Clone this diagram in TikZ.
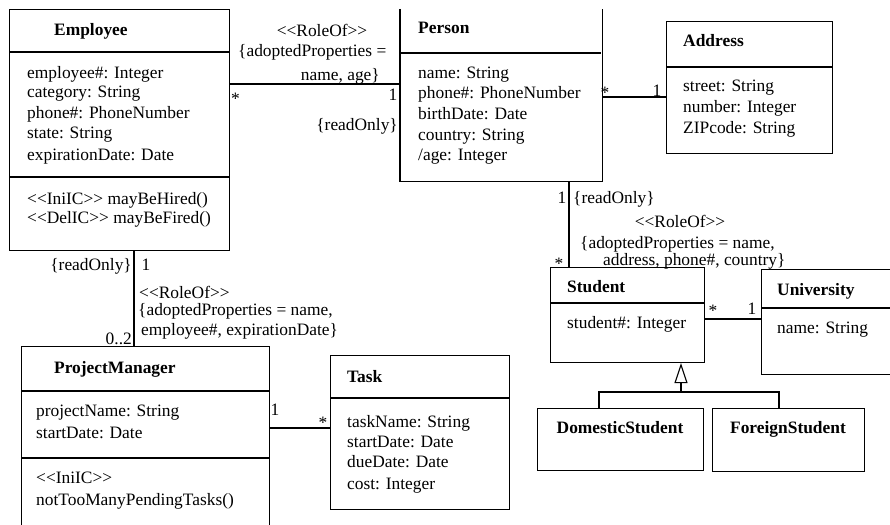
\documentclass[tikz,border=0pt]{standalone}
\usepackage{fontspec}
\newfontfamily\umlfont{Liberation Serif}
\usetikzlibrary{arrows.meta}
\begin{document}
\begin{tikzpicture}[x=1pt,y=-1pt,
  font=\umlfont\fontsize{17.4}{20}\selectfont,
  box/.style={draw, line width=1.1pt, anchor=north west, inner sep=0pt, rectangle},
  txt/.style={anchor=base west, inner sep=0pt},
  rtxt/.style={anchor=base east, inner sep=0pt},
  ctxt/.style={anchor=base, inner sep=0pt},
  ttl/.style={anchor=base west, inner sep=0pt, font=\umlfont\bfseries\fontsize{17.4}{20}\selectfont},
  cttl/.style={anchor=base, inner sep=0pt, font=\umlfont\bfseries\fontsize{17.4}{20}\selectfont},
  conn/.style={line width=1.1pt}]
\useasboundingbox (0,0) rectangle (890,524);
\clip (0,0) rectangle (890,524);
\fill[white] (0,0) rectangle (890,524);

% ---------- boxes ----------
\node[box, minimum width=220pt, minimum height=241pt] (emp) at (9,9) {};
\node[box, draw=none, minimum width=201pt, minimum height=171pt] (per) at (400,9) {};
\draw[conn] (per.north west) -- (per.south west) -- (per.south east) -- (per.north east);
\node[box, minimum width=166pt, minimum height=132pt] (adr) at (666,21) {};
\node[box, minimum width=154pt, minimum height=95pt] (stu) at (550,267) {};
\node[box, minimum width=140pt, minimum height=105pt] (uni) at (761,269) {};
\node[box, minimum width=166pt, minimum height=62pt] (dom) at (537,408) {};
\node[box, minimum width=152pt, minimum height=63pt] (for) at (712,408) {};
\node[box, minimum width=248pt, minimum height=200pt] (pm) at (21,346) {};
\node[box, minimum width=179pt, minimum height=154pt] (tsk) at (330,355) {};

% ---------- compartment lines ----------
\draw[conn] (emp.north west) ++(0,43) -- ++(220,0);
\draw[conn] (emp.north west) ++(0,168) -- ++(220,0);
\draw[conn] (per.north west) ++(0,44) -- ++(201,0);
\draw[conn] (adr.north west) ++(0,46) -- ++(166,0);
\draw[conn] (stu.north west) ++(0,36) -- ++(154,0);
\draw[conn] (uni.north west) ++(0,39) -- ++(140,0);
\draw[conn] (pm.north west) ++(0,45) -- ++(248,0);
\draw[conn] (pm.north west) ++(0,112) -- ++(248,0);
\draw[conn] (tsk.north west) ++(0,43) -- ++(179,0);

% ---------- titles ----------
\node[ttl] (t1) at (54,36) {Employee};
\node[ttl] (t2) at (418,34) {Person};
\node[ttl] (t3) at (683,47) {Address};
\node[ttl] (t4) at (567,292) {Student};
\node[ttl] (t5) at (777,295) {University};
\node[cttl] (t6) at (620,433) {DomesticStudent};
\node[cttl] (t7) at (788,433) {ForeignStudent};
\node[ttl] (t8) at (54,373) {ProjectManager};
\node[ttl] (t9) at (347,382) {Task};

% ---------- attributes ----------
\node[txt] (ea1) at (27,79) {employee\#: Integer};
\node[txt] (ea2) at (27,98) {category: String};
\node[txt] (ea3) at (27,118) {phone\#: PhoneNumber};
\node[txt] (ea4) at (27,138) {state: String};
\node[txt] (ea5) at (27,160) {expirationDate: Date};
\node[txt] (eo1) at (27,204) {<<IniIC>> mayBeHired()};
\node[txt] (eo2) at (27,223) {<<DelIC>> mayBeFired()};

\node[txt] (pa1) at (418,79) {name: String};
\node[txt] (pa2) at (418,99) {phone\#: PhoneNumber};
\node[txt] (pa3) at (418,120) {birthDate: Date};
\node[txt] (pa4) at (418,140) {country: String};
\node[txt] (pa5) at (418,160) {/age: Integer};

\node[txt] (aa1) at (683,92) {street: String};
\node[txt] (aa2) at (683,112) {number: Integer};
\node[txt] (aa3) at (683,133) {ZIPcode: String};

\node[txt] (sa1) at (567,328) {student\#: Integer};
\node[txt] (ua1) at (777,333) {name: String};

\node[txt] (ma1) at (36,416) {projectName: String};
\node[txt] (ma2) at (36,438) {startDate: Date};
\node[txt] (mo1) at (36,483) {<<IniIC>>};
\node[txt] (mo2) at (36,505) {notTooManyPendingTasks()};

\node[txt] (ta1) at (347,427) {taskName: String};
\node[txt] (ta2) at (347,447) {startDate: Date};
\node[txt] (ta3) at (347,467) {dueDate: Date};
\node[txt] (ta4) at (347,489) {cost: Integer};

% ---------- connectors ----------
\coordinate (k1) at (300,84);
\draw[conn] (emp.east |- k1) -- (per.west |- k1);
\coordinate (k2) at (630,97);
\draw[conn] (per.east |- k2) -- (adr.west |- k2);
\coordinate (k3) at (569,220);
\draw[conn] (per.south -| k3) -- (stu.north -| k3);
\coordinate (k4) at (730,319);
\draw[conn] (stu.east |- k4) -- (uni.west |- k4);
\coordinate (k5) at (134,300);
\draw[conn] (emp.south -| k5) -- (pm.north -| k5);
\coordinate (k6) at (300,428);
\draw[conn] (pm.east |- k6) -- (tsk.west |- k6);

% generalization
\coordinate (gen) at (681,392);
\coordinate (gd) at (599,392);
\coordinate (gf) at (779,392);
\draw[conn, -{Triangle[open, length=20pt, width=13pt, line width=1.1pt]}] (gen) -- (stu.south -| gen);
\draw[conn] (dom.north -| gd) |- (gen) -| (for.north -| gf);

% ---------- connector labels ----------
\node[ctxt] (l1) at (322,37) {<<RoleOf>>};
\node[txt] (l2) at (238,57) {\{adoptedProperties =};
\node[rtxt] (l3) at (380,81) {name, age\}};
\node[txt] (l4) at (231,105) {*};
\node[ctxt] (l5) at (393,100) {1};
\node[rtxt] (l6) at (398,130) {\{readOnly\}};

\node[ctxt] (l7) at (605,99) {*};
\node[ctxt] (l8) at (657,96) {1};

\node[ctxt] (l9) at (562,203) {1};
\node[txt] (l10) at (573,203) {\{readOnly\}};
\node[ctxt] (l11) at (680,227) {<<RoleOf>>};
\node[txt] (l12) at (580,248) {\{adoptedProperties = name,};
\node[txt] (l13) at (603,265) {address, phone\#, country\}};
\node[ctxt] (l14) at (559,269) {*};

\node[ctxt] (l15) at (713,316) {*};
\node[ctxt] (l16) at (752,314) {1};

\node[rtxt] (l17) at (132,270) {\{readOnly\}};
\node[ctxt] (l18) at (146,270) {1};
\node[txt] (l19) at (139,298) {<<RoleOf>>};
\node[txt] (l20) at (138,315) {\{adoptedProperties = name,};
\node[txt] (l21) at (141,335) {employee\#, expirationDate\}};
\node[rtxt] (l22) at (132,344) {0..2};

\node[ctxt] (l23) at (275,415) {1};
\node[ctxt] (l24) at (323,428) {*};
\end{tikzpicture}
\end{document}
